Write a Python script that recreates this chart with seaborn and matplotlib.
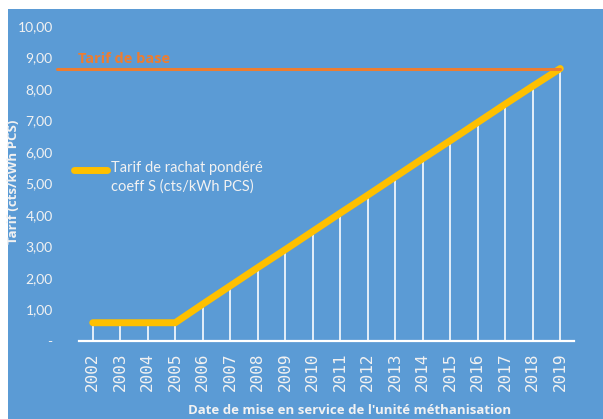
import numpy as np
import pandas as pd
import matplotlib
matplotlib.use("Agg")
import matplotlib.pyplot as plt
import seaborn as sns
from matplotlib.lines import Line2D
from matplotlib.patches import Rectangle

# Données
annees = [str(a) for a in range(2002, 2020)]
tarif_rachat = [0.58, 0.58, 0.58, 0.58, 1.17, 1.75, 2.33, 2.90, 3.48, 4.06,
                4.63, 5.21, 5.79, 6.36, 6.94, 7.52, 8.09, 8.65]
tarif_base = 8.62

df = pd.DataFrame({'Annee': annees, 'Tarif': tarif_rachat})

bleu = '#5B9BD5'
jaune = '#FFC000'
orange = '#ED7D31'
blanc = '#F2F2F2'

sns.set_style('white')
plt.rcParams['font.family'] = ['Lato', 'DejaVu Sans']
gras = ['Open Sans', 'DejaVu Sans']

fig = plt.figure(figsize=(6.03, 4.19), dpi=100)
fig.patch.set_facecolor('white')
fig.add_artist(Rectangle((8 / 603, 0), 1, 1 - 9 / 419, transform=fig.transFigure,
                         facecolor=bleu, edgecolor='none', zorder=0))

ax = fig.add_axes([79 / 603, 78 / 419, 495 / 603, 315 / 419])
ax.set_facecolor('none')

# lignes de rappel verticales
ax.vlines(df['Annee'], 0, df['Tarif'], color='white', lw=1.3, alpha=0.9, zorder=2)

sns.lineplot(data=df, x='Annee', y='Tarif', color=jaune, lw=5, ax=ax,
             zorder=3, legend=False, solid_capstyle='round')

# tarif de base
ax.axhline(tarif_base, xmin=-22 / 495, xmax=481 / 495, color=orange, lw=2.2,
           clip_on=False, zorder=4)
ax.text(-0.55, tarif_base + 0.12, 'Tarif de base', color=orange, fontsize=10.5,
        fontweight='bold', family=gras, va='bottom', ha='left')

ax.set_xlim(-0.5, 17.5)
ax.set_ylim(0, 10)
ax.set_yticks(np.arange(0, 11, 1))
ax.set_yticklabels(['-'] + [f'{v},00' for v in range(1, 11)], color=blanc, fontsize=10)
ax.tick_params(axis='y', length=0, pad=19)
ax.tick_params(axis='x', length=0, pad=8, colors=blanc)
for lab in ax.get_xticklabels():
    lab.set_rotation(90)
    lab.set_family('DejaVu Sans Mono')
    lab.set_fontsize(11.5)
    lab.set_color(blanc)

for s in ['top', 'right', 'left']:
    ax.spines[s].set_visible(False)
ax.spines['bottom'].set_color('white')
ax.spines['bottom'].set_linewidth(1.6)
ax.set_xlabel('')
ax.set_ylabel('')

fig.text(14 / 603, 1 - 182 / 419, 'Tarif (cts/kWh PCS)', rotation=90, color=blanc,
         fontsize=9.5, fontweight='bold', family=gras, ha='center', va='center')
fig.text(350 / 603, 1 - 410 / 419, "Date de mise en service de l'unité méthanisation",
         color=blanc, fontsize=9.5, fontweight='bold', family=gras,
         ha='center', va='center')

# légende
fig.add_artist(Line2D([74 / 603, 107 / 603], [1 - 170 / 419, 1 - 170 / 419],
                      color=jaune, lw=5, solid_capstyle='round',
                      transform=fig.transFigure))
fig.text(111 / 603, 1 - 161 / 419, 'Tarif de rachat pondéré\ncoeff S (cts/kWh PCS)',
         color=blanc, fontsize=10.5, ha='left', va='top', linespacing=1.35)

fig.savefig('out.png', dpi=100)
